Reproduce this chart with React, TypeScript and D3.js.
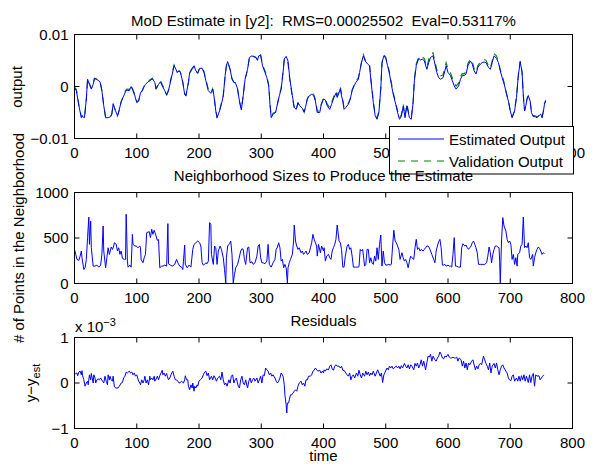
import * as d3 from "d3"
import React from "react"

const W = 596
const H = 468
const FONT = "'Liberation Sans', Arial, Helvetica, sans-serif"
const FS = 15

// [time, output (x1e-3)]
const estimated: [number, number][] = [[0,-0.3],[3,-0.8],[7,-3.7],[11,-6.0],[13,-5.8],[16,-6.0],[19,-2.4],[21,1.4],[24,0.4],[27,-0.5],[30,0.4],[32,1.5],[35,1.4],[39,1.1],[41,0.9],[44,-0.8],[47,-3.7],[50,-6.0],[54,-6.0],[58,-5.8],[60,-5.3],[62,-3.4],[64,-4.0],[66,-4.7],[69,-5.6],[71,-4.9],[75,-2.9],[78,-2.1],[82,-1.0],[84,-0.7],[88,-0.8],[91,0],[94,-0.8],[97,-1.8],[100,-3.1],[103,-2.8],[106,-1.2],[109,-0.8],[111,-0.2],[114,0.4],[118,0.9],[121,1.1],[125,1.5],[129,0.8],[131,-0.5],[135,0.4],[138,0.9],[141,0.1],[145,-0.8],[148,-1.7],[151,-0.8],[154,0.8],[157,2.4],[160,4.0],[163,3.3],[165,2.7],[168,3.0],[170,2.8],[174,0.8],[177,-1.5],[179,-1.8],[183,0.8],[185,2.7],[189,3.5],[192,4.0],[195,3.0],[198,2.6],[201,3.5],[205,3.5],[208,2.7],[211,1.1],[215,-0.8],[219,-1.3],[222,-0.5],[224,-1.8],[227,-4.7],[229,-6.0],[233,-4.7],[236,-3.4],[239,-1.8],[242,2.1],[244,4.0],[246,4.8],[250,3.3],[253,1.4],[256,0.8],[259,0.6],[262,-0.5],[265,-2.8],[268,-4.5],[271,-1.8],[274,1.4],[278,3.3],[281,5.6],[285,5.9],[288,5.7],[291,5.6],[294,5.1],[296,5.9],[299,6.0],[302,4.0],[306,2.7],[309,1.7],[312,0.1],[314,-3.4],[316,-6.0],[319,-5.3],[323,-5.0],[326,-3.4],[329,-1.8],[332,-0.5],[335,2.7],[337,5.3],[340,5.8],[343,4.9],[346,1.4],[350,-1.8],[353,-4.0],[356,-4.4],[359,-3.1],[362,-3.7],[366,-4.2],[369,-4.9],[371,-4.0],[374,-2.4],[377,-1.8],[381,-1.5],[384,-1.7],[387,-2.8],[390,-5.0],[394,-5.0],[396,-3.7],[400,-2.4],[403,-2.6],[406,-3.7],[410,-4.4],[413,-3.4],[417,-2.1],[420,-1.3],[422,-2.1],[425,-1.2],[427,-0.4],[429,-1.8],[431,-2.8],[433,-4.4],[436,-4.0],[440,-3.4],[443,-2.4],[446,-0.8],[449,0.1],[452,0.8],[456,1.4],[458,2.7],[461,4.6],[464,5.9],[467,4.9],[471,4.3],[474,4.0],[476,1.4],[480,-3.1],[483,-5.6],[486,-6.3],[489,-5.0],[492,-0.5],[494,4.6],[497,5.9],[500,5.4],[503,4.0],[506,2.4],[509,0.4],[512,-1.5],[516,-3.4],[519,-5.0],[522,-6.3],[525,-5.8],[528,-3.8],[531,-6.0],[534,-3.7],[538,-6.0],[541,-6.3],[544,-3.1],[546,1.1],[549,4.0],[553,5.4],[556,5.1],[559,5.3],[562,4.9],[566,3.3],[569,4.6],[572,5.6],[576,5.9],[579,4.3],[582,2.7],[585,1.7],[588,1.4],[592,1.7],[595,3.0],[597,4.0],[600,2.7],[604,2.1],[607,1.1],[610,0.1],[613,-0.5],[617,0.1],[620,1.4],[623,2.1],[626,2.1],[629,2.4],[632,4.0],[636,4.9],[639,4.3],[642,3.0],[645,2.4],[648,3.7],[652,4.3],[655,4.6],[658,4.7],[661,4.6],[665,3.7],[668,3.3],[671,4.6],[674,5.9],[678,5.4],[681,4.6],[684,3.0],[687,1.7],[691,0.1],[694,-1.5],[697,-2.8],[700,-4.7],[703,-6.0],[707,-4.7],[710,-2.1],[713,2.1],[716,4.8],[719,2.7],[721,-1.8],[723,-4.7],[725,-3.7],[727,-2.4],[729,-1.8],[732,-2.8],[734,-5.0],[737,-5.8],[740,-5.8],[743,-6.0],[747,-5.5],[749,-5.3],[751,-6.0],[753,-5.0],[755,-3.4],[757,-2.8]]

// [time, # of points in the neighborhood]
const neighbors: [number, number][] = [[0,375],[2,320],[4,265],[7,254],[9,301],[11,357],[12,283],[15,154],[17,173],[19,265],[21,504],[23,730],[24,430],[26,687],[27,393],[30,191],[33,191],[36,202],[39,180],[42,202],[44,320],[46,632],[47,357],[50,173],[52,283],[54,393],[56,320],[59,401],[61,375],[63,412],[64,448],[67,430],[69,357],[71,393],[73,320],[75,357],[77,276],[80,265],[82,265],[83,761],[85,246],[86,180],[89,202],[91,180],[93,540],[94,430],[97,412],[99,412],[102,393],[105,412],[106,393],[107,265],[110,228],[112,283],[114,320],[116,559],[120,570],[122,504],[124,596],[126,540],[128,585],[130,548],[133,474],[135,485],[137,173],[140,191],[142,191],[145,202],[148,191],[150,658],[151,217],[154,202],[157,191],[161,210],[164,265],[166,228],[169,191],[172,180],[174,154],[177,423],[178,210],[181,173],[184,202],[187,180],[190,375],[192,430],[195,448],[198,467],[201,448],[203,412],[205,228],[207,202],[209,210],[211,228],[213,217],[215,246],[217,669],[219,651],[220,320],[223,210],[225,412],[227,393],[229,210],[231,357],[234,412],[236,375],[239,283],[241,154],[243,7],[244,283],[246,412],[249,437],[251,467],[253,320],[255,7],[257,99],[259,173],[262,210],[264,265],[267,357],[269,382],[271,375],[273,265],[275,210],[278,393],[280,401],[282,228],[285,239],[287,210],[290,228],[293,301],[295,412],[297,430],[299,283],[301,228],[303,228],[306,217],[309,246],[311,430],[313,210],[316,180],[319,228],[322,265],[324,375],[326,401],[328,448],[330,393],[332,246],[334,265],[336,173],[338,210],[340,173],[342,7],[343,173],[345,228],[347,265],[350,320],[352,467],[353,643],[355,467],[357,412],[359,375],[361,393],[364,338],[366,357],[368,320],[370,338],[372,357],[374,320],[377,338],[379,393],[381,448],[383,540],[385,485],[387,448],[389,412],[390,301],[392,430],[395,338],[397,412],[400,357],[401,393],[403,246],[405,301],[408,320],[410,283],[412,265],[414,357],[416,393],[418,430],[420,485],[422,643],[425,467],[427,448],[429,375],[431,180],[433,180],[435,301],[438,412],[440,430],[442,375],[444,393],[446,301],[448,180],[451,180],[455,180],[457,184],[459,375],[461,357],[463,375],[466,191],[468,210],[470,375],[472,375],[474,228],[476,283],[478,228],[480,210],[482,301],[484,246],[486,393],[488,265],[490,430],[492,533],[494,191],[496,357],[498,228],[500,202],[502,202],[505,210],[507,202],[509,210],[511,412],[513,585],[515,467],[517,448],[519,412],[521,375],[523,265],[526,338],[528,283],[530,246],[532,265],[534,228],[536,173],[538,246],[540,301],[542,283],[545,265],[547,393],[549,485],[551,375],[553,393],[555,357],[557,375],[560,357],[562,375],[564,393],[566,412],[568,412],[570,393],[572,357],[574,320],[577,265],[579,228],[581,357],[583,412],[585,460],[587,485],[589,393],[591,202],[593,202],[595,210],[597,191],[600,202],[602,191],[604,191],[606,180],[608,320],[610,504],[612,191],[614,191],[617,180],[620,180],[622,393],[624,437],[627,412],[629,423],[631,393],[633,375],[635,393],[637,412],[639,448],[641,467],[643,430],[645,393],[647,338],[649,210],[652,210],[656,210],[659,210],[662,228],[664,301],[666,401],[668,338],[670,228],[672,320],[674,375],[676,412],[678,412],[680,401],[682,393],[683,246],[684,7],[686,467],[688,724],[690,632],[693,577],[695,485],[697,448],[699,467],[701,430],[703,265],[705,320],[707,210],[709,283],[711,191],[712,320],[715,338],[717,412],[719,430],[721,731],[723,393],[725,412],[727,393],[729,448],[731,283],[733,265],[736,320],[737,191],[739,283],[741,338],[743,375],[745,401],[747,386],[749,357],[751,320],[753,338],[755,330]]

// [time, y - y_est (x1e-3)]
const residuals: [number, number][] = [[0,0.18],[2,0.21],[4,0.22],[5,0.16],[7,0.24],[9,0.26],[11,0.18],[12,0.27],[13,0.16],[15,0.07],[17,-0.07],[19,0],[21,0.04],[22,-0.04],[24,0.18],[26,0.07],[27,0.21],[30,0],[31,0.18],[33,0.11],[34,0],[36,0.07],[38,0.09],[40,0.07],[42,0.11],[45,0.04],[47,0],[49,0.15],[51,0.04],[53,-0.04],[54,0.18],[56,0.07],[57,0.15],[59,0.07],[61,0.04],[62,0.15],[64,-0.07],[66,-0.11],[68,-0.11],[70,-0.11],[72,-0.07],[75,0],[77,0.01],[79,0.11],[81,0.15],[83,0.24],[85,0.22],[88,0.26],[90,0.22],[92,0.24],[94,0.18],[96,0.22],[98,0.15],[100,0.18],[103,0.04],[105,0],[106,-0.04],[108,0.07],[110,0],[112,0.07],[113,0.15],[115,0],[117,0.07],[119,-0.04],[121,0.15],[122,0.07],[124,0.11],[126,0.07],[128,0.15],[129,0.04],[132,0.11],[133,0.15],[135,0.07],[137,0.16],[139,0.22],[141,0.28],[142,0.18],[144,0.22],[146,0.15],[148,0.21],[149,0.15],[151,0.07],[153,0.11],[155,0.18],[157,0.24],[158,0.26],[160,0.15],[162,0.07],[164,0.07],[166,0.04],[168,0],[170,0.01],[172,0.04],[175,0],[177,0.07],[178,0.16],[180,0.07],[182,0.07],[183,-0.07],[185,-0.15],[187,-0.04],[189,-0.11],[190,0],[192,-0.18],[193,-0.07],[195,-0.11],[197,-0.04],[198,-0.07],[200,0.04],[202,0.07],[205,0.11],[207,0.18],[209,0.24],[211,0.26],[213,0.16],[215,0.22],[217,0.07],[220,0.15],[222,0.07],[224,0.16],[226,0.11],[228,0.04],[230,0.11],[233,0.15],[235,0.07],[237,0.24],[239,0.07],[241,-0.04],[243,0],[245,-0.07],[248,0.07],[250,0],[252,0.15],[254,0.18],[256,0],[258,0.07],[260,0.11],[263,-0.07],[265,-0.11],[267,0.07],[269,0.15],[271,0],[273,-0.04],[275,0.07],[278,-0.11],[280,0.04],[282,0.11],[284,0],[286,0.07],[288,0.11],[290,0.04],[293,0.11],[295,0],[297,0.07],[299,0.15],[301,0],[303,0.18],[305,0.16],[307,0.33],[309,0.29],[311,0.26],[313,0.18],[315,0.22],[317,0.15],[319,0.18],[322,0.11],[324,0.04],[326,0],[328,0.04],[330,0.11],[332,0.22],[335,0.15],[337,-0.04],[338,-0.26],[340,-0.48],[341,-0.66],[342,-0.44],[344,-0.44],[345,-0.37],[347,-0.26],[349,-0.26],[351,-0.22],[353,-0.18],[355,-0.15],[357,-0.18],[359,-0.07],[361,0],[364,0.04],[366,-0.04],[368,0],[370,-0.07],[372,0.07],[374,0.07],[376,0.15],[379,0.15],[381,0.18],[383,0.26],[385,0.28],[387,0.33],[389,0.29],[391,0.26],[394,0.28],[396,0.22],[398,0.26],[400,0.22],[401,0.29],[403,0.26],[405,0.31],[408,0.29],[410,0.37],[412,0.40],[414,0.31],[416,0.28],[418,0.37],[420,0.40],[422,0.37],[425,0.37],[427,0.33],[429,0.37],[431,0.28],[433,0.28],[435,0.24],[438,0.18],[440,0.15],[442,0.22],[444,0.07],[446,0.15],[448,0.18],[450,0.11],[453,0.22],[455,0.15],[457,0.28],[459,0.18],[461,0.11],[463,0.22],[466,0.15],[468,0.26],[470,0.18],[472,0.24],[474,0.16],[476,0.22],[478,0.18],[480,0.26],[483,0.15],[485,0.22],[487,0.29],[489,0.22],[491,0.15],[493,0.22],[495,0.01],[497,0.18],[499,0.24],[502,0.33],[504,0.29],[506,0.37],[508,0.33],[510,0.37],[512,0.31],[515,0.35],[517,0.37],[519,0.33],[521,0.37],[523,0.31],[525,0.38],[527,0.33],[530,0.43],[532,0.37],[534,0.33],[536,0.40],[538,0.31],[540,0.40],[542,0.37],[545,0.29],[547,0.43],[549,0.37],[551,0.44],[553,0.33],[555,0.40],[557,0.51],[559,0.37],[561,0.48],[564,0.29],[566,0.44],[568,0.59],[570,0.57],[572,0.63],[574,0.48],[576,0.59],[579,0.51],[581,0.48],[583,0.55],[585,0.59],[587,0.68],[589,0.63],[591,0.55],[593,0.53],[595,0.59],[597,0.57],[600,0.63],[602,0.57],[604,0.55],[606,0.55],[608,0.57],[610,0.55],[612,0.55],[614,0.57],[616,0.48],[618,0.55],[621,0.51],[623,0.37],[625,0.48],[627,0.33],[629,0.44],[631,0.29],[633,0.44],[635,0.40],[638,0.48],[640,0.51],[642,0.40],[644,0.29],[646,0.37],[648,0.31],[650,0.40],[652,0.43],[654,0.40],[657,0.59],[659,0.51],[661,0.43],[663,0.37],[665,0.29],[667,0.44],[669,0.22],[671,0.37],[674,0.43],[676,0.33],[678,0.44],[680,0.29],[682,0.18],[684,0.29],[686,0.37],[688,0.40],[690,0.33],[693,0.26],[695,0.22],[697,0.11],[699,0.07],[701,0.05],[703,0.15],[705,0.18],[707,0.04],[710,0.11],[712,0.04],[714,0.15],[716,0.04],[718,0.16],[720,0.07],[722,0.18],[724,0.04],[726,0.15],[729,0.01],[731,0.18],[733,0.01],[735,0.15],[737,0.21],[739,-0.07],[741,0.18],[743,0.15],[746,0.16],[748,0.07],[750,0.11],[752,0.15],[754,0.18]]

const xTicks = [0, 100, 200, 300, 400, 500, 600, 700, 800]
const outTicks = [-0.01, 0, 0.01]
const nbTicks = [0, 500, 1000]
const resTicks = [-1, 0, 1]

const LEFT = 74.5
const RIGHT = 572.5

const x = d3.scaleLinear().domain([0, 800]).range([LEFT, RIGHT])

const minus = (s: string) => s.replace("-", "\u2212")

// validation output y = y_est + (y - y_est), using the residual read at the nearest time
const bisectT = d3.bisector((d: [number, number]) => d[0]).center
const validation: [number, number][] = estimated.map(([t, v]) => [t, v + residuals[bisectT(residuals, t)][1]])

type AxesProps = {
  top: number
  bottom: number
  y: d3.ScaleLinear<number, number>
  yTicks: number[]
  yFmt: (v: number) => string
  title?: string
  titleY?: number
  children?: React.ReactNode
}

function Axes({ top, bottom, y, yTicks, yFmt, title, titleY, children }: AxesProps) {
  const tl = 5
  return (
    <g>
      {children}
      <rect x={LEFT} y={top} width={RIGHT - LEFT} height={bottom - top} fill="none" stroke="#000" strokeWidth={1} />
      {xTicks.map((t) => (
        <g key={"x" + t}>
          <line x1={x(t)} x2={x(t)} y1={bottom} y2={bottom - tl} stroke="#000" />
          <line x1={x(t)} x2={x(t)} y1={top} y2={top + tl} stroke="#000" />
          <text x={x(t)} y={bottom + 19} textAnchor="middle">{t}</text>
        </g>
      ))}
      {yTicks.map((t) => (
        <g key={"y" + t}>
          <line x1={LEFT} x2={LEFT + tl} y1={y(t)} y2={y(t)} stroke="#000" />
          <line x1={RIGHT} x2={RIGHT - tl} y1={y(t)} y2={y(t)} stroke="#000" />
          <text x={LEFT - 6} y={y(t) + 5} textAnchor="end">{minus(yFmt(t))}</text>
        </g>
      ))}
      {title && (
        <text x={(LEFT + RIGHT) / 2} y={titleY ?? top - 12} textAnchor="middle" style={{ whiteSpace: "pre" }}>{title}</text>
      )}
    </g>
  )
}

export default function App() {
  const y1 = d3.scaleLinear().domain([-0.01, 0.01]).range([138.5, 34.5])
  const y2 = d3.scaleLinear().domain([0, 1000]).range([283.5, 192.5])
  const y3 = d3.scaleLinear().domain([-1, 1]).range([428.5, 337.5])

  const outLine = d3.line<[number, number]>().x((d) => x(d[0])).y((d) => y1(d[1] * 1e-3))
  const nbLine = d3.line<[number, number]>().x((d) => x(d[0])).y((d) => y2(d[1]))
  const resLine = d3.line<[number, number]>().x((d) => x(d[0])).y((d) => y3(d[1]))

  const legX = 389.5
  const legY = 126.5

  return (
    <svg width={W} height={H} style={{ position: "absolute", left: 0, top: 0, background: "#fff" }} fontFamily={FONT} fontSize={FS}>
      {/* top: estimated vs validation output */}
      <Axes top={34.5} bottom={138.5} y={y1} yTicks={outTicks} yFmt={(v) => (v === 0 ? "0" : String(v))}
        title={"MoD Estimate in [y2]:  RMS=0.00025502  Eval=0.53117%"} titleY={25.5}>
        <path d={outLine(validation) || ""} fill="none" stroke="#008000" strokeWidth={1.1} strokeDasharray="7,6" />
        <path d={outLine(estimated) || ""} fill="none" stroke="#0000ff" strokeWidth={1} />
      </Axes>
      <text transform="translate(22,87) rotate(-90)" textAnchor="middle">output</text>

      {/* legend */}
      <g>
        <rect x={legX} y={legY} width={184} height={47.5} fill="#fff" stroke="#000" />
        <line x1={398} x2={444} y1={139} y2={139} stroke="#0000ff" strokeWidth={1.2} />
        <text x={449} y={145}>Estimated Output</text>
        <line x1={398} x2={444} y1={161} y2={161} stroke="#008000" strokeWidth={1.2} strokeDasharray="7,6" />
        <text x={449} y={167}>Validation Output</text>
      </g>

      {/* middle: neighborhood sizes */}
      <Axes top={192.5} bottom={283.5} y={y2} yTicks={nbTicks} yFmt={(v) => String(v)}
        title="Neighborhood Sizes to Produce the Estimate" titleY={180.5}>
        <path d={nbLine(neighbors) || ""} fill="none" stroke="#0000ff" strokeWidth={1} />
      </Axes>
      <text transform="translate(24,238) rotate(-90)" textAnchor="middle"># of Points in the Neighborhood</text>

      {/* bottom: residuals */}
      <Axes top={337.5} bottom={428.5} y={y3} yTicks={resTicks} yFmt={(v) => String(v)} title="Residuals" titleY={325.5}>
        <path d={resLine(residuals) || ""} fill="none" stroke="#0000ff" strokeWidth={1} />
      </Axes>
      <text x={75} y={332}>x 10<tspan dy={-6} fontSize={11}>{"\u22123"}</tspan></text>
      <text transform="translate(36,383) rotate(-90)" textAnchor="middle">
        y{"\u2212"}y<tspan dy={4} fontSize={11}>est</tspan>
      </text>
      <text x={(LEFT + RIGHT) / 2} y={461} textAnchor="middle">time</text>
    </svg>
  )
}
